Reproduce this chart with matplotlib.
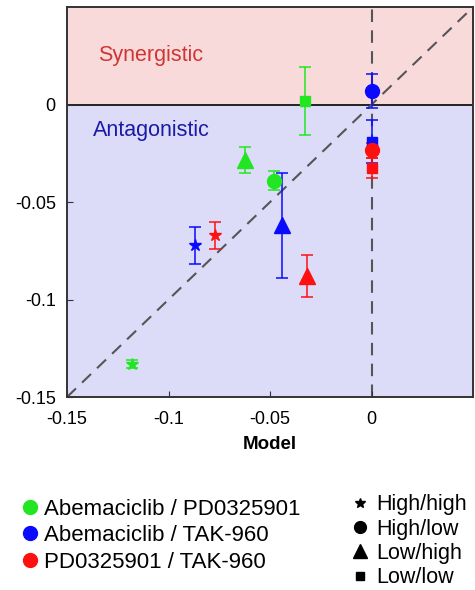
import numpy as np
import matplotlib
matplotlib.use('Agg')
import matplotlib.pyplot as plt
from matplotlib.lines import Line2D
from matplotlib.ticker import FuncFormatter

plt.rcParams['font.family'] = ['Liberation Sans', 'DejaVu Sans']
plt.rcParams['axes.unicode_minus'] = False

# Datos: combinaciones x niveles de dosis
pairs = ['Abemaciclib / PD0325901', 'Abemaciclib / TAK-960', 'PD0325901 / TAK-960']
pair_colors = ['#22e622', '#0a0aff', '#ff1010']
levels = ['High/high', 'High/low', 'Low/high', 'Low/low']
level_markers = ['*', 'o', '^', 's']
level_sizes = [9, 10, 12, 7.5]

# model (x), observado (y), error (y) por combinacion, orden de niveles
model_x = [
    [-0.118, -0.048, -0.0625, -0.033],
    [-0.087, 0.0, -0.044, 0.0],
    [-0.077, 0.0, -0.032, 0.0],
]
obs_y = [
    [-0.133, -0.039, -0.0285, 0.002],
    [-0.0722, 0.007, -0.062, -0.019],
    [-0.067, -0.0235, -0.088, -0.0325],
]
obs_err = [
    [0.002, 0.005, 0.0066, 0.0175],
    [0.0095, 0.0085, 0.0268, 0.011],
    [0.007, 0.004, 0.0108, 0.005],
]

fig = plt.figure(figsize=(4.75, 5.9), dpi=100)
ax = fig.add_axes([0.141, 0.327, 0.855, 0.661])

ax.axhspan(0, 0.05, color='#f9dada', zorder=0)
ax.axhspan(-0.15, 0, color='#dcdcf8', zorder=0)
ax.axhline(0, color='#222222', lw=1.4, zorder=1)
ax.plot([-0.15, 0.05], [-0.15, 0.05], color='#555555', lw=1.5, dashes=(6, 4), zorder=1)
ax.axvline(0, color='#555555', lw=1.5, dashes=(6, 4), zorder=1)

for i in range(len(pairs)):
    for j in range(len(levels)):
        ax.errorbar(model_x[i][j], obs_y[i][j], yerr=obs_err[i][j],
                    fmt=level_markers[j], ms=level_sizes[j], color=pair_colors[i],
                    ecolor=pair_colors[i], elinewidth=1.1, capsize=4.5, capthick=1.1,
                    zorder=3)

ax.text(-0.1345, 0.025, 'Synergistic', color='#d03535', fontsize=15.5, va='center')
ax.text(-0.137, -0.0135, 'Antagonistic', color='#1a1aa8', fontsize=15.5, va='center')

ax.set_xlim(-0.15, 0.05)
ax.set_ylim(-0.15, 0.05)
ax.set_xticks([-0.15, -0.1, -0.05, 0])
ax.set_yticks([-0.15, -0.1, -0.05, 0])
fmt = FuncFormatter(lambda v, p: '%g' % round(v, 3))
ax.xaxis.set_major_formatter(fmt)
ax.yaxis.set_major_formatter(fmt)
ax.tick_params(direction='in', labelsize=13, length=4, color='#333333')
ax.tick_params(axis='x', pad=10)
ax.tick_params(axis='y', pad=8)
ax.set_xlabel('Model', fontsize=13.5, fontweight='bold', labelpad=6)
for s in ax.spines.values():
    s.set_color('#333333')
    s.set_linewidth(1.4)

# Leyenda de colores
h1 = [Line2D([], [], ls='none', marker='o', ms=10, color=c) for c in pair_colors]
fig.legend(h1, pairs, loc='upper left', bbox_to_anchor=(0.05, 0.155), frameon=False,
           fontsize=16, handlelength=0.6, handletextpad=0.3, labelspacing=0.25,
           borderaxespad=0, borderpad=0)

# Leyenda de formas
h2 = [Line2D([], [], ls='none', marker=m, ms=s * 0.85, color='black')
      for m, s in zip(level_markers, level_sizes)]
fig.legend(h2, levels, loc='upper left', bbox_to_anchor=(0.745, 0.162), frameon=False,
           fontsize=15.5, handlelength=0.6, handletextpad=0.45, labelspacing=0.15,
           borderaxespad=0, borderpad=0)

plt.savefig('out.png', dpi=100)
